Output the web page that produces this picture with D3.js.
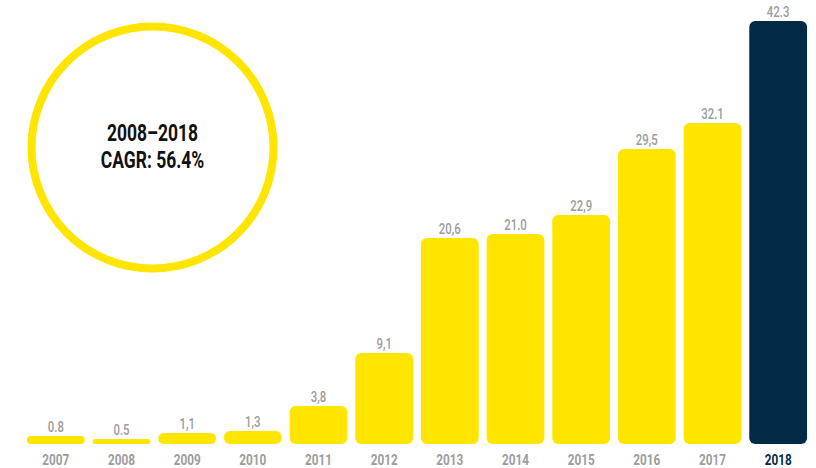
<!DOCTYPE html>
<html>
<head>
<meta charset="utf-8">
<script src="https://cdn.jsdelivr.net/npm/d3@7"></script>
<style>
  html, body { margin: 0; padding: 0; background: #fff; }
  svg { display: block; }
  text { font-family: Roboto, "Noto Sans", sans-serif; }
</style>
</head>
<body>
<svg id="chart" width="816" height="468"></svg>
<script>
const years = ["2007","2008","2009","2010","2011","2012","2013","2014","2015","2016","2017","2018"];
const values = [0.8, 0.5, 1.1, 1.3, 3.8, 9.1, 20.6, 21.0, 22.9, 29.5, 32.1, 42.3];
const valueLabels = ["0.8","0.5","1,1","1,3","3,8","9,1","20,6","21.0","22,9","29,5","32.1","42.3"];
const highlightYear = "2018";
const calloutLines = ["2008\u20132018", "CAGR: 56.4%"];

const svg = d3.select("#chart");
const baseY = 444;
const condense = 0.76;

const x = d3.scaleBand().domain(years).range([23, 811]).paddingInner(0.12).paddingOuter(0.06);
const y = d3.scaleLinear().domain([0, 44.4]).range([baseY, 0]);

const yellow = "#FFE500";
const navy = "#022A47";
const grey = "#9C9C9C";

const data = years.map((yr, i) => ({ year: yr, value: values[i], label: valueLabels[i] }));

svg.selectAll("rect.bar").data(data).enter().append("rect")
  .attr("class", "bar")
  .attr("x", d => x(d.year))
  .attr("y", d => y(d.value))
  .attr("width", x.bandwidth())
  .attr("height", d => baseY - y(d.value))
  .attr("rx", d => Math.min(6, (baseY - y(d.value)) / 2))
  .attr("ry", d => Math.min(6, (baseY - y(d.value)) / 2))
  .attr("fill", d => d.year === highlightYear ? navy : yellow);

svg.selectAll("text.val").data(data).enter().append("text")
  .attr("class", "val")
  .attr("transform", d => `translate(${x(d.year) + x.bandwidth() / 2},${y(d.value) - 4}) scale(${condense},1)`)
  .attr("text-anchor", "middle")
  .attr("font-size", 15)
  .attr("font-weight", 500)
  .attr("fill", grey)
  .text(d => d.label);

svg.selectAll("text.yr").data(data).enter().append("text")
  .attr("class", "yr")
  .attr("transform", d => `translate(${x(d.year) + x.bandwidth() / 2},465) scale(${condense},1)`)
  .attr("text-anchor", "middle")
  .attr("font-size", 15.5)
  .attr("font-weight", "bold")
  .attr("fill", d => d.year === highlightYear ? navy : grey)
  .text(d => d.year);

// Callout circle
const cx = 152.5, cy = 147.5;
svg.append("circle")
  .attr("cx", cx).attr("cy", cy).attr("r", 121)
  .attr("fill", "none")
  .attr("stroke", yellow)
  .attr("stroke-width", 8);

svg.selectAll("text.callout").data(calloutLines).enter().append("text")
  .attr("class", "callout")
  .attr("transform", (d, i) => `translate(${cx},${140.5 + i * 27.5}) scale(${condense},1)`)
  .attr("text-anchor", "middle")
  .attr("font-size", 23)
  .attr("font-weight", "bold")
  .attr("fill", "#111")
  .text(d => d);
</script>
</body>
</html>
